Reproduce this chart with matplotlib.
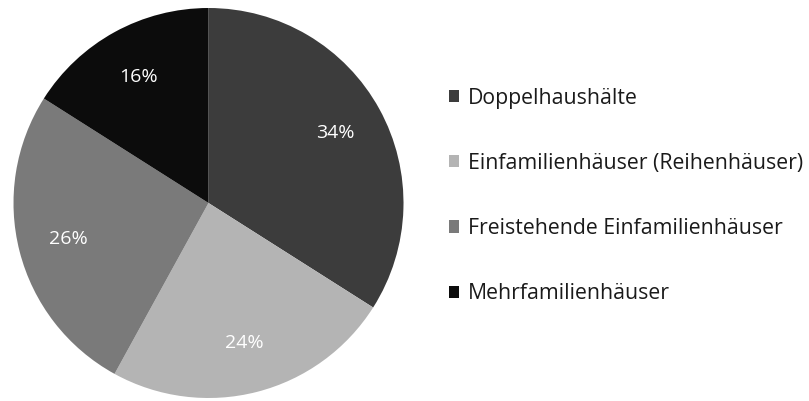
import matplotlib
matplotlib.use("Agg")
import matplotlib.pyplot as plt
from matplotlib.patches import Patch

categories = ["Doppelhaushälte", "Einfamilienhäuser (Reihenhäuser)",
              "Freistehende Einfamilienhäuser", "Mehrfamilienhäuser"]
values = [34, 24, 26, 16]
colors = ["#3c3c3c", "#b4b4b4", "#7a7a7a", "#0c0c0c"]

plt.rcParams['font.family'] = ['Open Sans', 'DejaVu Sans']

fig = plt.figure(figsize=(8.09, 4.01), dpi=100)
ax = fig.add_axes([12/809, 3/401, 393/809, 390/401])
wedges, texts, autotexts = ax.pie(values, colors=colors, startangle=90, counterclock=False,
                                  autopct=lambda p: f"{p:.0f}%", pctdistance=0.74,
                                  textprops=dict(color="white", fontsize=14))
ax.set_xlim(-1, 1)
ax.set_ylim(-1, 1)
ax.set_aspect('equal')

handles = [Patch(facecolor=c, edgecolor='none') for c in colors]
leg = fig.legend(handles, categories, loc='center left', bbox_to_anchor=(438/809, 1 - 196/401),
                 frameon=False, fontsize=15.3, handlelength=0.5, handleheight=0.5,
                 handletextpad=0.4, labelspacing=2.08, labelcolor="#1a1a1a", borderpad=0)
fig.savefig("out.png", dpi=100)
